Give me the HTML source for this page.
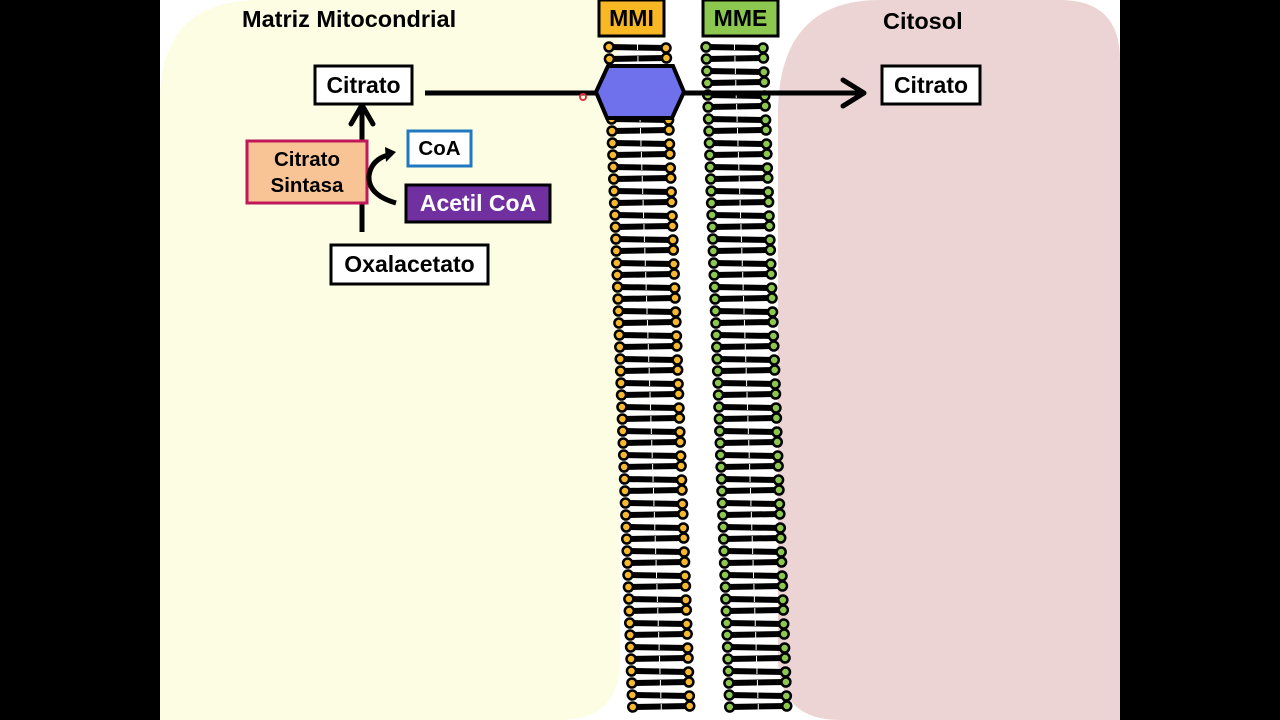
<!DOCTYPE html>
<html><head><meta charset="utf-8"><style>
html,body{margin:0;padding:0;width:1280px;height:720px;overflow:hidden;background:#000}
svg{display:block}
text{font-family:"Liberation Sans",Arial,sans-serif;font-weight:bold}
</style></head><body>
<svg id="s" width="1280" height="720" xmlns="http://www.w3.org/2000/svg">
<rect x="160" y="0" width="960" height="720" fill="#fff"/>
<path d="M260,0 H620 V660 Q620,720 560,720 H160 V100 Q160,0 260,0 Z" fill="#fdfde3"/>
<path d="M880,0 H1060 Q1120,0 1120,60 V720 H840 Q780,720 778,660 V110 Q780,0 880,0 Z" fill="#ecd4d4"/>
<g id="lip"></g>
<text x="242" y="27" font-size="23.5">Matriz Mitocondrial</text>
<text x="883" y="29" font-size="23.5">Citosol</text>
<rect x="599" y="0" width="65" height="36" fill="#f8b824" stroke="#000" stroke-width="3"/>
<text x="631.5" y="26" font-size="23" text-anchor="middle">MMI</text>
<rect x="703" y="0" width="75" height="36" fill="#8cc850" stroke="#000" stroke-width="3"/>
<text x="740.5" y="26" font-size="23" text-anchor="middle">MME</text>
<line x1="425" y1="93" x2="862" y2="93" stroke="#000" stroke-width="5"/>
<polyline points="843,80 864,93 843,106" fill="none" stroke="#000" stroke-width="5" stroke-linecap="round" stroke-linejoin="round"/>
<polygon points="596,92 608,66 673,66 684,92 672,118 607,118" fill="#6e70ec" stroke="#000" stroke-width="4"/>
<circle cx="583" cy="97" r="3" fill="none" stroke="#e03040" stroke-width="2"/>
<rect x="315" y="66" width="97" height="38" fill="#fff" stroke="#000" stroke-width="3"/>
<text x="363.5" y="93" font-size="23" text-anchor="middle">Citrato</text>
<rect x="882" y="66" width="98" height="38" fill="#fff" stroke="#000" stroke-width="3"/>
<text x="931" y="93" font-size="23" text-anchor="middle">Citrato</text>
<line x1="362" y1="232" x2="362" y2="108" stroke="#000" stroke-width="5"/>
<polyline points="351,124 362,105 373,124" fill="none" stroke="#000" stroke-width="5" stroke-linejoin="round" stroke-linecap="round"/>
<rect x="247" y="141" width="120" height="62" fill="#f8c495" stroke="#c0185a" stroke-width="3"/>
<text x="307" y="166" font-size="20.5" text-anchor="middle">Citrato</text>
<text x="307" y="192" font-size="20.5" text-anchor="middle">Sintasa</text>
<path d="M396,203 Q368,195 369,176 Q371,160 388,155" fill="none" stroke="#000" stroke-width="5"/>
<polygon points="385,147 396,152 386,162" fill="#000"/>
<rect x="408" y="131" width="63" height="35" fill="#fff" stroke="#1f78c0" stroke-width="3"/>
<text x="439.5" y="155" font-size="20.5" text-anchor="middle">CoA</text>
<rect x="406" y="185" width="144" height="37" fill="#7030a0" stroke="#000" stroke-width="3"/>
<text x="478" y="211" font-size="23" text-anchor="middle" fill="#fff">Acetil CoA</text>
<rect x="331" y="245" width="157" height="39" fill="#fff" stroke="#000" stroke-width="3"/>
<text x="409.5" y="272" font-size="23" text-anchor="middle">Oxalacetato</text>
</svg>
<script>
var g=document.getElementById('lip'),h='';
function mem(x0,w,fill,skip){
 for(var y=47;y<=710;y+=12){
  if(skip&&y>60&&y<115)continue;
  var xl=x0+(y-47)*0.036, xr=xl+w, wy=y+((y/12|0)%2?1:-1);
  h+='<line x1="'+xl+'" y1="'+y+'" x2="'+xr+'" y2="'+wy+'" stroke="#000" stroke-width="6"/>';
  h+='<line x1="'+(xl+w/2)+'" y1="'+(y-3)+'" x2="'+(xl+w/2)+'" y2="'+(y+3)+'" stroke="#fff" stroke-width="1"/>';
  h+='<circle cx="'+xl+'" cy="'+y+'" r="4.5" fill="'+fill+'" stroke="#000" stroke-width="2.5"/>';
  h+='<circle cx="'+xr+'" cy="'+wy+'" r="4.5" fill="'+fill+'" stroke="#000" stroke-width="2.5"/>';
 }
}
mem(609,57,'#f5b82e',true);
mem(706,57,'#8cc850',false);
g.innerHTML=h;
</script>
</body></html>
